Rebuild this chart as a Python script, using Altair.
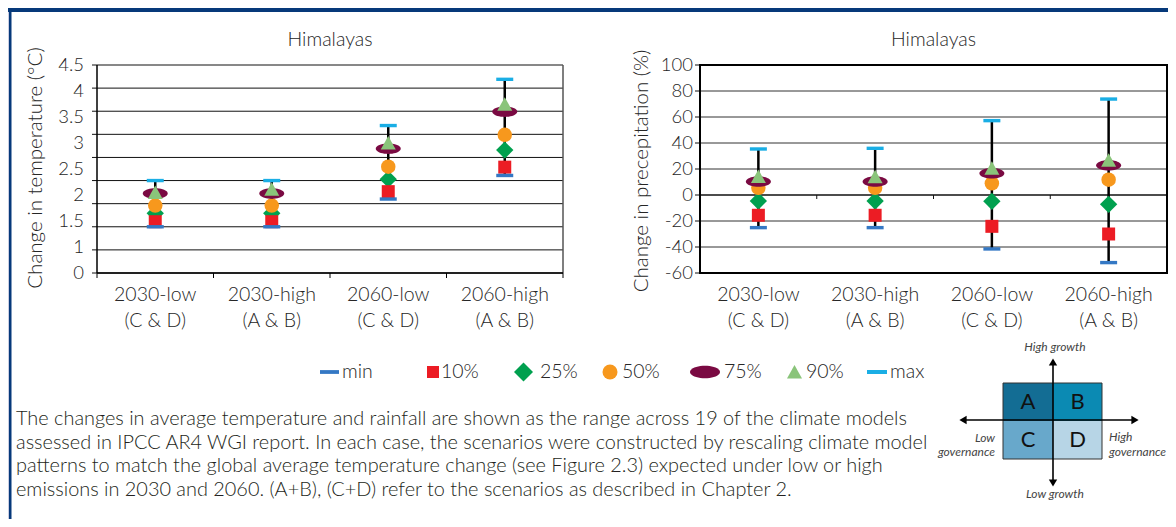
import altair as alt
import pandas as pd
import numpy as np

# ------------------------------------------------------------------ data
categories = ["2030-low", "2030-high", "2060-low", "2060-high"]
scenario_groups = ["(C & D)", "(A & B)", "(C & D)", "(A & B)"]
series_names = ["min", "10%", "25%", "50%", "75%", "90%", "max"]

temp_min = [1.00, 1.00, 1.60, 2.11]
temp_p10 = [1.11, 1.11, 1.76, 2.29]
temp_p25 = [1.29, 1.29, 2.03, 2.66]
temp_p50 = [1.46, 1.46, 2.30, 2.99]
temp_p75 = [1.72, 1.72, 2.69, 3.49]
temp_p90 = [1.74, 1.81, 2.81, 3.65]
temp_max = [2.00, 2.00, 3.19, 4.19]

prec_min = [-25.1, -25.1, -41.5, -52.0]
prec_p10 = [-15.6, -15.6, -24.1, -30.0]
prec_p25 = [-4.6, -4.6, -4.9, -7.2]
prec_p50 = [5.5, 5.5, 9.0, 11.8]
prec_p75 = [10.3, 10.3, 16.7, 22.8]
prec_p90 = [14.1, 14.0, 20.5, 26.7]
prec_max = [35.4, 35.9, 57.2, 73.8]

temp_tick_labels = ["4.5", "4", "3.5", "3", "2.5", "2", "1.5", "1", "0"]
temp_grid_values = [0, 0.5, 1, 1.5, 2, 2.5, 3, 3.5, 4, 4.5]
prec_tick_values = [100, 80, 60, 40, 20, 0, -20, -40, -60]

chart_title = "Himalayas"
temp_axis_title = "Change in temperature (°C)"
prec_axis_title = "Change in precepitation (%)"

caption_lines = [
    " The changes in average temperature and rainfall are shown as the range across 19 of the climate models",
    "assessed in IPCC AR4 WGI report. In each case, the scenarios were constructed by rescaling climate model",
    "patterns to match the global average temperature change (see Figure 2.3) expected under low or high",
    "emissions in 2030 and 2060. (A+B), (C+D) refer to the scenarios as described in Chapter 2.",
]
quadrant_letters = ["A", "B", "C", "D"]
growth_labels = ["High growth", "Low growth"]
governance_labels = ["Low", "governance", "High", "governance"]

# ------------------------------------------------------------------ styles
FONT = "Lato"
FW = 300
TXT = "#262626"
NAVY = "#06397a"


def cv(p):
    """page pixel -> canvas pixel (page has an 8px margin)"""
    return p - 8


def ellipse_path(ry=0.42, n=40):
    pts = [(np.cos(t), ry * np.sin(t)) for t in np.linspace(0, 2 * np.pi, n, endpoint=False)]
    return "M" + "L".join(f"{x:.3f},{y:.3f}" for x, y in pts) + "Z"


DASH = "M-1,-0.2L1,-0.2L1,0.2L-1,0.2Z"
TRI = "M-1,0.85L0,-0.95L1,0.85Z"
ELL = ellipse_path()

STYLE = {
    "min": dict(shape=DASH, size=289, color="#3478c4"),
    "10%": dict(shape="square", size=169, color="#ec1c24"),
    "25%": dict(shape="diamond", size=300, color="#00a04f"),
    "50%": dict(shape="circle", size=210, color="#f7981d"),
    "75%": dict(shape=ELL, size=625, color="#7a0a42"),
    "90%": dict(shape=TRI, size=225, color="#8ac47a"),
    "max": dict(shape=DASH, size=289, color="#1aaee5"),
}
LEGEND_SIZE = {"min": 361, "10%": 144, "25%": 361, "50%": 225, "75%": 900, "90%": 225, "max": 400}
DRAW_ORDER = ["25%", "10%", "50%", "75%", "90%", "min", "max"]

one = pd.DataFrame({"k": [0]})


def pv(field):
    return alt.X(field, type="quantitative", scale=None, axis=None)


def pvy(field):
    return alt.Y(field, type="quantitative", scale=None, axis=None)


def panel_layers(vals, x_rng, y_dom, y_rng, kind):
    xs = alt.Scale(domain=[0, 4], range=x_rng, nice=False, zero=False)
    ys = alt.Scale(domain=y_dom, range=y_rng, nice=False, zero=False)
    x0, x1 = x_rng
    ybot, ytop = y_rng
    X = lambda f: alt.X(f, type="quantitative", scale=xs, axis=None)
    Y = lambda f: alt.Y(f, type="quantitative", scale=ys, axis=None)

    df = pd.DataFrame({"xc": [i + 0.5 for i in range(len(categories))],
                       "cat": categories, "grp": scenario_groups})
    keys = {}
    for j, (s, arr) in enumerate(zip(series_names, vals)):
        keys[s] = f"s{j}"
        df[f"s{j}"] = arr

    layers = []
    if kind == "temp":
        grid = pd.DataFrame({"v": temp_grid_values})
        layers.append(alt.Chart(grid).mark_rule(color="#111", strokeWidth=1).encode(
            y=Y("v"), x=alt.value(x0), x2=alt.value(x1)))
        layers.append(alt.Chart(grid).mark_rule(color="#111", strokeWidth=1).encode(
            y=Y("v"), x=alt.value(x0 - 5), x2=alt.value(x0)))
        layers.append(alt.Chart(one).mark_rule(color="#555", strokeWidth=1.5).encode(
            x=alt.value(x1), y=alt.value(ytop), y2=alt.value(ybot)))
        layers.append(alt.Chart(one).mark_rule(color="#000", strokeWidth=1.5).encode(
            x=alt.value(x0), y=alt.value(ytop), y2=alt.value(ybot)))
        bdf = pd.DataFrame({"b": [0, 1, 2, 3, 4], "z": [0] * 5})
        layers.append(alt.Chart(one).mark_rule(color="#000", strokeWidth=1.5).encode(
            y=alt.value(ybot), x=alt.value(x0), x2=alt.value(x1)))
        layers.append(alt.Chart(bdf).mark_rule(color="#000", strokeWidth=1, y2Offset=5).encode(
            x=X("b"), y=Y("z"), y2=alt.Y2("z")))
        tl = pd.DataFrame({"t": temp_tick_labels,
                           "p": np.linspace(y_dom[1], y_dom[0], len(temp_tick_labels))})
        layers.append(alt.Chart(tl).mark_text(font=FONT, fontWeight=FW, fontSize=18.5, color=TXT,
                                              align="right", baseline="middle").encode(
            y=Y("p"), x=alt.value(cv(84)), text="t:N"))
        ytitle, ytitle_x, ytitle_y = temp_axis_title, cv(36), cv(168)
    else:
        inner = [v for v in prec_tick_values if y_dom[0] < v < y_dom[1] and v != 0]
        grid = pd.DataFrame({"v": inner})
        layers.append(alt.Chart(grid).mark_rule(color="#333", strokeWidth=1).encode(
            y=Y("v"), x=alt.value(x0), x2=alt.value(x1)))
        allt = pd.DataFrame({"v": prec_tick_values, "t": [str(v) for v in prec_tick_values]})
        layers.append(alt.Chart(allt).mark_rule(color="#111", strokeWidth=1).encode(
            y=Y("v"), x=alt.value(x0 - 5), x2=alt.value(x0)))
        zdf = pd.DataFrame({"z": [0]})
        layers.append(alt.Chart(zdf).mark_rule(color="#111", strokeWidth=1.5).encode(
            y=Y("z"), x=alt.value(x0), x2=alt.value(x1)))
        bdf = pd.DataFrame({"b": [1, 2, 3, 4], "z": [0] * 4})
        layers.append(alt.Chart(bdf).mark_rule(color="#111", strokeWidth=1, y2Offset=4).encode(
            x=X("b"), y=Y("z"), y2=alt.Y2("z")))
        layers.append(alt.Chart(one).mark_rect(fillOpacity=0, stroke="#000", strokeWidth=2).encode(
            x=alt.value(x0), x2=alt.value(x1), y=alt.value(ytop), y2=alt.value(ybot)))
        layers.append(alt.Chart(allt).mark_text(font=FONT, fontWeight=FW, fontSize=18.5, color=TXT,
                                                align="right", baseline="middle").encode(
            y=Y("v"), x=alt.value(cv(693)), text="t:N"))
        ytitle, ytitle_x, ytitle_y = prec_axis_title, cv(642), cv(171)

    layers.append(alt.Chart(df).mark_rule(color="#000", strokeWidth=2.5).encode(
        x=X("xc"), y=Y(keys["min"]), y2=alt.Y2(keys["max"])))
    for s in DRAW_ORDER:
        st = STYLE[s]
        layers.append(alt.Chart(df).mark_point(shape=st["shape"], size=st["size"], filled=True,
                                               opacity=1, color=st["color"], strokeWidth=0).encode(
            x=X("xc"), y=Y(keys[s])))
    layers.append(alt.Chart(df).mark_text(font=FONT, fontWeight=FW, fontSize=19.5, color=TXT,
                                          baseline="middle").encode(
        x=X("xc"), y=alt.value(cv(295)), text="cat:N"))
    layers.append(alt.Chart(df).mark_text(font=FONT, fontWeight=FW, fontSize=19.5, color=TXT,
                                          baseline="middle").encode(
        x=X("xc"), y=alt.value(cv(321)), text="grp:N"))
    layers.append(alt.Chart(pd.DataFrame({"t": [chart_title], "c": [2]})).mark_text(
        font=FONT, fontWeight=FW, fontSize=19.5, color=TXT, baseline="middle").encode(
        x=X("c"), y=alt.value(cv(40)), text="t:N"))
    layers.append(alt.Chart(pd.DataFrame({"t": [ytitle]})).mark_text(
        font=FONT, fontWeight=FW, fontSize=20.5, color=TXT, baseline="middle", align="center",
        angle=270).encode(
        x=alt.value(ytitle_x), y=alt.value(ytitle_y), text="t:N"))
    return layers


temp_vals = [temp_min, temp_p10, temp_p25, temp_p50, temp_p75, temp_p90, temp_max]
prec_vals = [prec_min, prec_p10, prec_p25, prec_p50, prec_p75, prec_p90, prec_max]

layers = []

layers.append(alt.Chart(one).mark_rect(color=NAVY).encode(
    x=alt.value(0), x2=alt.value(1160), y=alt.value(0), y2=alt.value(cv(12))))
layers.append(alt.Chart(one).mark_rect(color="#c9cde3").encode(
    x=alt.value(0), x2=alt.value(1), y=alt.value(cv(12)), y2=alt.value(511)))
layers.append(alt.Chart(one).mark_rect(color=NAVY).encode(
    x=alt.value(1), x2=alt.value(cv(11.5)), y=alt.value(0), y2=alt.value(511)))

layers += panel_layers(temp_vals, [cv(97), cv(563)], [0, 4.5], [cv(273), cv(65)], "temp")
layers += panel_layers(prec_vals, [cv(700), cv(1167)], [-60, 100], [cv(273), cv(65)], "prec")

# legend
legend_sym_x = [329.5, 433, 523.5, 610, 705, 794.5, 877]
legend_txt_x = [342, 441, 540, 622, 724, 806, 890]
LEG_Y = cv(372)
for s, sx in zip(series_names, legend_sym_x):
    st = STYLE[s]
    layers.append(alt.Chart(one).mark_point(shape=st["shape"], size=LEGEND_SIZE[s], filled=True,
                                            opacity=1, color=st["color"], strokeWidth=0).encode(
        x=alt.value(cv(sx)), y=alt.value(LEG_Y)))
leg_df = pd.DataFrame({"t": series_names, "x": [cv(v) for v in legend_txt_x]})
layers.append(alt.Chart(leg_df).mark_text(font=FONT, fontWeight=FW, fontSize=19.5, color=TXT,
                                          align="left", baseline="middle").encode(
    x=pv("x"), y=alt.value(LEG_Y), text="t:N"))

# caption
cap_df = pd.DataFrame({"t": caption_lines, "y": [cv(419), cv(442.5), cv(466), cv(489.5)]})
layers.append(alt.Chart(cap_df).mark_text(font=FONT, fontWeight=FW, fontSize=19.9, color="#231f20",
                                          align="left", baseline="middle").encode(
    x=alt.value(cv(16)), y=pvy("y"), text="t:N"))

# scenario diagram
qx = [1003, 1053, 1003, 1053]
qx2 = [1053, 1102, 1053, 1102]
qy = [383, 383, 421, 421]
qy2 = [421, 421, 459, 459]
quad = pd.DataFrame({
    "x": [cv(v) for v in qx], "x2": [cv(v) for v in qx2],
    "y": [cv(v) for v in qy], "y2": [cv(v) for v in qy2],
    "c": ["#136d94", "#0b8ab3", "#68a8cb", "#b7d5e6"], "t": quadrant_letters})
quad["xm"] = (quad["x"] + quad["x2"]) / 2
quad["ym"] = (quad["y"] + quad["y2"]) / 2
layers.append(alt.Chart(quad).mark_rect().encode(
    x=pv("x"), x2="x2:Q", y=pvy("y"), y2="y2:Q", color=alt.Color("c:N", scale=None)))
layers.append(alt.Chart(one).mark_rect(fillOpacity=0, stroke="#333", strokeWidth=1).encode(
    x=alt.value(cv(1003)), x2=alt.value(cv(1102)), y=alt.value(cv(383)), y2=alt.value(cv(459))))
layers.append(alt.Chart(quad).mark_text(font=FONT, fontSize=22, color="#111", baseline="middle").encode(
    x=pv("xm"), y=pvy("ym"), text="t:N"))
seg = pd.DataFrame({"x": [cv(1053), cv(961)], "x2": [cv(1053), cv(1137)],
                    "y": [cv(360), cv(420)], "y2": [cv(485), cv(420)]})
layers.append(alt.Chart(seg).mark_rule(color="#000", strokeWidth=1.6).encode(
    x=pv("x"), x2="x2:Q", y=pvy("y"), y2="y2:Q"))
heads = [("triangle-up", 1053, 362), ("triangle-down", 1053, 483),
         ("triangle-left", 963, 420), ("triangle-right", 1135, 420)]
for shp, hx, hy in heads:
    layers.append(alt.Chart(one).mark_point(shape=shp, size=70, filled=True, opacity=1,
                                            color="#000", strokeWidth=0).encode(
        x=alt.value(cv(hx)), y=alt.value(cv(hy))))
gl = pd.DataFrame({"t": growth_labels, "x": [cv(1055), cv(1055)], "y": [cv(347), cv(494)]})
layers.append(alt.Chart(gl).mark_text(font=FONT, fontSize=12, fontStyle="italic", color="#444",
                                      baseline="middle").encode(
    x=pv("x"), y=pvy("y"), text="t:N"))
gov_l = pd.DataFrame({"t": governance_labels[:2], "x": [cv(995), cv(995)], "y": [cv(438), cv(452)]})
layers.append(alt.Chart(gov_l).mark_text(font=FONT, fontSize=12, fontStyle="italic", color="#444",
                                         baseline="middle", align="right").encode(
    x=pv("x"), y=pvy("y"), text="t:N"))
gov_r = pd.DataFrame({"t": governance_labels[2:], "x": [cv(1109), cv(1109)], "y": [cv(437), cv(452)]})
layers.append(alt.Chart(gov_r).mark_text(font=FONT, fontSize=12, fontStyle="italic", color="#444",
                                         baseline="middle", align="left").encode(
    x=pv("x"), y=pvy("y"), text="t:N"))

chart = alt.layer(*layers).resolve_scale(
    x="independent", y="independent", color="independent"
).properties(
    width=1160, height=511, padding=0, autosize=alt.AutoSizeParams(type="none"),
    background="white"
).configure_view(stroke=None)

chart.save("out.html", embed_options={"renderer": "svg", "actions": False})
